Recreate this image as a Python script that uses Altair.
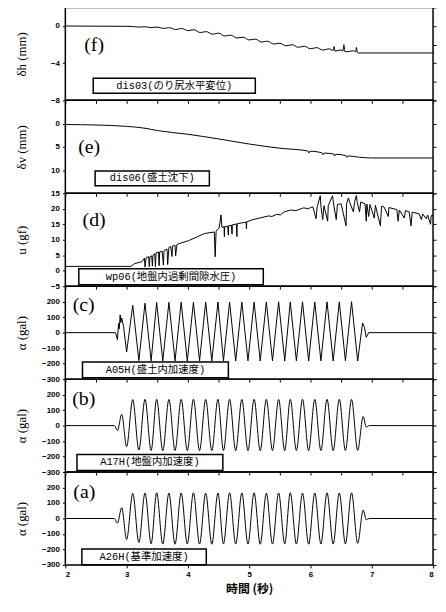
import altair as alt
import pandas as pd

# ---------------- data ----------------
# (f) dis03 horizontal displacement  (t [s], dh [mm])
F_POINTS = [
    (2.00, 0.00), (3.00, -0.03), (3.10, -0.06), (3.20, -0.11), (3.30, -0.08), (3.40, -0.17),
    (3.50, -0.11), (3.60, -0.26), (3.70, -0.18), (3.80, -0.38), (3.90, -0.26), (4.00, -0.50),
    (4.10, -0.40), (4.20, -0.70), (4.30, -0.60), (4.40, -0.88), (4.50, -0.76), (4.60, -1.07),
    (4.70, -0.98), (4.80, -1.29), (4.90, -1.20), (5.00, -1.50), (5.10, -1.41), (5.20, -1.72),
    (5.30, -1.63), (5.40, -1.94), (5.50, -1.85), (5.60, -2.13), (5.70, -2.01), (5.80, -2.29),
    (5.90, -2.17), (6.00, -2.45), (6.10, -2.32), (6.20, -2.59), (6.30, -2.45), (6.37, -2.62),
    (6.385, -2.20), (6.40, -2.70), (6.50, -2.57), (6.53, -2.70), (6.545, -2.00), (6.56, -2.74),
    (6.60, -2.76), (6.70, -2.66), (6.735, -2.78), (6.75, -2.30), (6.765, -2.85), (6.78, -2.90),
    (8.00, -2.90),
]

# (e) dis06 settlement (t, dv [mm])
E_POINTS = [
    (2.00, 0.2), (2.50, 0.3), (3.00, 0.6), (3.30, 1.0), (3.50, 1.5), (4.00, 2.3), (4.50, 3.3),
    (5.00, 4.4), (5.50, 5.3), (5.96, 5.9), (5.975, 6.35), (5.99, 5.95), (6.19, 6.3), (6.205, 6.75),
    (6.22, 6.35), (6.38, 6.55), (6.395, 7.0), (6.41, 6.6), (6.58, 6.9), (6.595, 7.3), (6.61, 6.95),
    (6.80, 7.25), (6.90, 7.35), (7.00, 7.4), (8.00, 7.4),
]

# (d) wp06 excess pore water pressure (t, u [gf])
D_POINTS = [
    (2.00, 1.4), (3.07, 1.4), (3.13, 2.3), (3.25, 2.9), (3.29, 4.0), (3.30, 1.2), (3.32, 4.3),
    (3.36, 4.5), (3.37, 1.3), (3.38, 4.5), (3.41, 4.8), (3.42, 1.5), (3.43, 5.0), (3.46, 5.5),
    (3.47, 1.3), (3.48, 5.8), (3.52, 6.0), (3.53, 1.6), (3.54, 6.1), (3.58, 6.3), (3.60, 1.8),
    (3.61, 6.5), (3.66, 7.0), (3.67, 2.0), (3.69, 7.5), (3.72, 7.8), (3.74, 4.6), (3.75, 8.0),
    (3.79, 8.2), (3.80, 4.8), (3.82, 8.4), (3.85, 8.7), (4.01, 9.7), (4.16, 11.0), (4.27, 12.0),
    (4.43, 12.5), (4.445, 4.5), (4.46, 12.8), (4.51, 13.8), (4.54, 18.0), (4.555, 14.0),
    (4.59, 14.2), (4.595, 11.0), (4.60, 14.2), (4.65, 14.4), (4.66, 11.5), (4.665, 14.5),
    (4.71, 14.7), (4.72, 11.8), (4.725, 14.8), (4.79, 15.1), (4.80, 11.0), (4.805, 15.2),
    (4.90, 15.5), (4.95, 15.7), (4.955, 13.5), (4.96, 15.8), (5.06, 16.5), (5.17, 17.0),
    (5.32, 17.7), (5.37, 17.5), (5.45, 18.2), (5.51, 18.0), (5.57, 19.0), (5.68, 19.6),
    (5.76, 19.4), (5.89, 20.3), (5.97, 20.0), (6.00, 20.4), (6.04, 20.6), (6.09, 16.8),
    (6.11, 20.7), (6.16, 24.2), (6.17, 20.8), (6.20, 16.5), (6.22, 21.0), (6.28, 16.0),
    (6.29, 21.0), (6.36, 24.2), (6.38, 21.2), (6.42, 16.5), (6.44, 21.4), (6.50, 21.6),
    (6.58, 14.5), (6.59, 21.8), (6.62, 23.5), (6.64, 22.0), (6.70, 19.0), (6.72, 22.3),
    (6.75, 24.3), (6.76, 22.3), (6.80, 19.0), (6.82, 22.2), (6.89, 21.6), (6.91, 16.0),
    (6.92, 21.5), (6.95, 17.5), (6.97, 21.4), (7.04, 17.0), (7.06, 21.1), (7.14, 14.5),
    (7.16, 20.8), (7.20, 20.6), (7.27, 17.5), (7.28, 20.4), (7.41, 19.7), (7.43, 16.0),
    (7.45, 19.6), (7.53, 17.0), (7.55, 19.4), (7.61, 19.0), (7.64, 14.5), (7.66, 18.9),
    (7.77, 18.4), (7.81, 16.5), (7.83, 18.3), (7.89, 16.8), (7.91, 18.0), (7.96, 15.0),
    (7.97, 17.8), (8.00, 17.8),
]

# acceleration records: times of successive troughs / peaks during shaking
ACC_T = [3.00, 3.10, 3.20, 3.30, 3.40, 3.49, 3.59, 3.69, 3.79, 3.89, 3.99, 4.09, 4.19,
         4.29, 4.39, 4.49, 4.58, 4.68, 4.78, 4.88, 4.98, 5.08, 5.18, 5.28, 5.38, 5.48,
         5.58, 5.67, 5.77, 5.87, 5.97, 6.07, 6.17, 6.27, 6.37, 6.47, 6.57, 6.67, 6.77]

# (c) A05H
C_T = [2.00, 2.82, 2.85, 2.87, 2.88, 2.895, 2.905, 2.92, 2.95] + ACC_T + [6.85, 6.88, 6.91, 6.95, 8.00]
C_V = ([0, 0, -45, 60, 25, 115, 65, 95, 40] +
       [-125, 177, -180, 190, -182, 195, -183, 196, -182, 197, -183, 196, -182, 197, -183,
        198, -182, 197, -183, 198, -182, 197, -183, 198, -182, 199, -183, 198, -182, 199,
        -183, 198, -182, 199, -183, 199, -182, 200, -183] +
       [63, 35, -30, 0, 0])

# (b) A17H
B_T = [2.00, 2.80, 2.85, 2.92] + ACC_T + [6.86, 6.91, 6.96, 8.00]
B_V = ([0, 0, -32, 72] +
       [-135, 168, -158, 170, -161, 170, -162, 169, -161, 170, -162, 170, -161, 169, -162,
        170, -161, 170, -162, 169, -161, 170, -162, 170, -161, 169, -162, 170, -161, 170,
        -162, 169, -161, 170, -162, 170, -161, 169, -160] +
       [58, -10, 0, 0])

# (a) A26H
A_T = [2.00, 2.80, 2.85, 2.92] + ACC_T + [6.86, 6.91, 6.96, 8.00]
A_V = ([0, 0, -30, 70] +
       [-135, 162, -155, 165, -163, 166, -165, 164, -166, 165, -164, 166, -165, 164, -166,
        165, -164, 166, -165, 165, -164, 166, -166, 164, -165, 165, -164, 166, -165, 164,
        -166, 165, -164, 166, -165, 165, -164, 166, -160] +
       [55, -8, 0, 0])

# labels
BOX_TEXT = ["dis03(のり尻水平変位)", "dis06(盛土沈下)", "wp06(地盤内過剰間隙水圧)",
            "A05H(盛土内加速度)", "A17H(地盤内加速度)", "A26H(基準加速度)"]
PANEL_LETTER = ["(f)", "(e)", "(d)", "(c)", "(b)", "(a)"]
Y_TITLES = ["δh  (mm)", "δv  (mm)", "u  (gf)", "α  (gal)", "α  (gal)", "α  (gal)"]
X_TITLE = "時間 (秒)"
X_TICKS = [2, 2.5, 3, 3.5, 4, 4.5, 5, 5.5, 6, 6.5, 7, 7.5, 8]

# box extents [t1, t2, v1, v2] and letter anchors [t, v] in data units
BOXES = [[2.455, 5.10, -5.62, -7.24], [2.486, 4.35, 10.2, 13.4], [2.22, 5.23, 0.65, -4.5],
         [2.28, 4.66, -190, -291], [2.19, 4.57, -187, -290], [2.27, 4.30, -197, -298]]
LETTERS = [[2.47, -2.05], [2.39, 5.1], [2.47, 16.5], [2.30, 177], [2.30, 174], [2.31, 171]]

ACC_TICKS = [-300, -200, -100, 0, 100, 200, 300]
ACC_LABELS = [-300, -200, -100, 0, 100, 200]

# ---------------- chart ----------------
W, H = 372, 94
EXT = 30
SERIF = "Liberation Serif"
CJK = "Liberation Mono, Noto Sans CJK JP"


def panel(df, i, domain, yticks, ylabels, interp, bottom=False, reverse=False):
    xscale = alt.Scale(domain=[2, 8], nice=False, zero=False)
    yscale = alt.Scale(domain=domain, nice=False, zero=False, reverse=reverse)
    if bottom:
        xaxis = alt.Axis(values=X_TICKS, format="d",
                         labelExpr="datum.value % 1 == 0 ? datum.label : ''",
                         titleFont="Noto Sans CJK JP", titleFontSize=12,
                         titleFontWeight="bold", titlePadding=5, labelPadding=3, tickSize=3)
        xtitle = X_TITLE
    else:
        xaxis = alt.Axis(values=X_TICKS, labels=False, tickSize=3)
        xtitle = None

    def X(field):
        return alt.X(field, scale=xscale, axis=xaxis, title=xtitle)

    # left axis: only ticks that carry a label (the top value is shared with the panel above)
    yaxis = alt.Axis(values=ylabels, title=Y_TITLES[i], minExtent=EXT,
                     maxExtent=EXT, titlePadding=7, tickSize=3, labelPadding=3)
    line = alt.Chart(df).mark_line(color="black", strokeWidth=1, interpolate=interp, clip=True).encode(
        x=X("t:Q"), y=alt.Y("v:Q", scale=yscale, axis=yaxis))

    b = BOXES[i]
    box_df = pd.DataFrame({"t1": [b[0]], "t2": [b[1]], "v1": [b[2]], "v2": [b[3]],
                           "tc": [(b[0] + b[1]) / 2], "vc": [(b[2] + b[3]) / 2],
                           "txt": [BOX_TEXT[i]]})
    rect = alt.Chart(box_df).mark_rect(fill="white", stroke="black", strokeWidth=1.5).encode(
        x=X("t1:Q"), x2="t2:Q",
        y=alt.Y("v1:Q", scale=yscale, axis=None), y2="v2:Q")
    btxt = alt.Chart(box_df).mark_text(font=CJK, fontSize=10.5, align="center", baseline="middle",
                                       color="black").encode(
        x=X("tc:Q"),
        y=alt.Y("vc:Q", scale=yscale, axis=None), text="txt:N")

    l = LETTERS[i]
    let_df = pd.DataFrame({"t": [l[0]], "v": [l[1]], "txt": [PANEL_LETTER[i]]})
    letter = alt.Chart(let_df).mark_text(font=SERIF, fontSize=20, align="center", baseline="middle",
                                         color="black").encode(
        x=X("t:Q"),
        y=alt.Y("v:Q", scale=yscale,
                axis=alt.Axis(orient="right", values=yticks, labels=False, tickSize=3, title=None)),
        text="txt:N")

    return alt.layer(line, rect, btxt, letter).resolve_axis(y="independent").properties(width=W, height=H)


f_df = pd.DataFrame(F_POINTS, columns=["t", "v"])
e_df = pd.DataFrame(E_POINTS, columns=["t", "v"])
d_df = pd.DataFrame(D_POINTS, columns=["t", "v"])
c_df = pd.DataFrame({"t": C_T, "v": C_V})
b_df = pd.DataFrame({"t": B_T, "v": B_V})
a_df = pd.DataFrame({"t": A_T, "v": A_V})

panels = [
    panel(f_df, 0, [-8, 2], [-8, -6, -4, -2, 0, 2], [-8, -4, 0], "monotone"),
    panel(e_df, 1, [-5, 15], [-5, 0, 5, 10, 15], [0, 5, 10, 15], "monotone", reverse=True),
    panel(d_df, 2, [-5, 25], [-5, 0, 5, 10, 15, 20, 25], [-5, 0, 5, 10, 15, 20], "linear"),
    panel(c_df, 3, [-300, 300], ACC_TICKS, ACC_LABELS, "linear"),
    panel(b_df, 4, [-300, 300], ACC_TICKS, ACC_LABELS, "monotone"),
    panel(a_df, 5, [-300, 300], ACC_TICKS, ACC_LABELS, "monotone", bottom=True),
]

chart = alt.vconcat(*panels, spacing=0, bounds="flush").properties(
    padding={"left": 7, "right": 0, "top": -6, "bottom": 0}
).configure_view(stroke="black", strokeWidth=1.5).configure_axis(
    grid=False, domain=False, tickColor="black", labelColor="black", titleColor="black",
    labelFont="Liberation Sans", labelFontSize=8, labelFontWeight="bold",
    titleFont=SERIF, titleFontSize=13, titleFontWeight="normal"
)

chart.save("out.html", embed_options={"renderer": "svg", "actions": False})
